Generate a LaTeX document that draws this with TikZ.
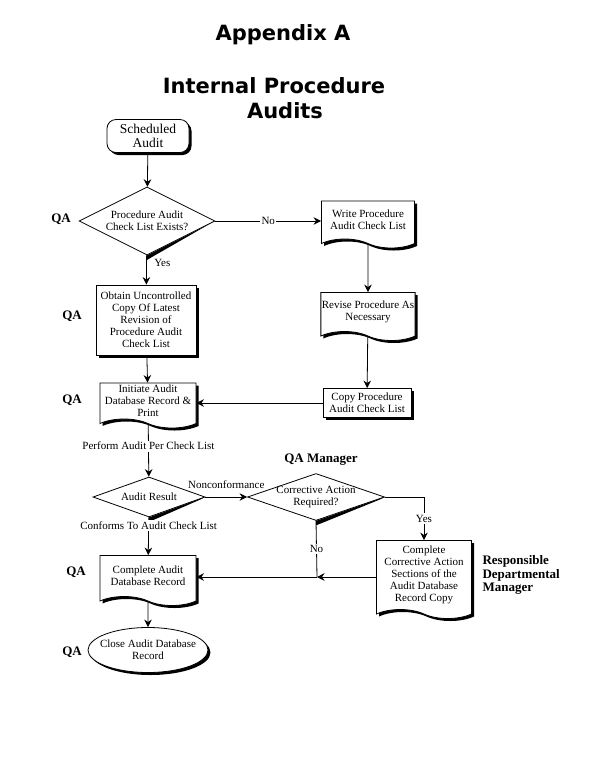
\documentclass[tikz,border=0pt]{standalone}
\usepackage{fontspec}
\usepackage{tikz}
\setmainfont{Liberation Serif}
\newfontfamily\headfont{DejaVu Sans}
\usetikzlibrary{shapes.geometric,shapes.symbols,shadows,arrows.meta}

\tikzset{
    box/.style={draw, fill=white, line width=0.8pt, align=center, inner xsep=1pt, inner ysep=2pt,
        drop shadow={fill=black, opacity=1, shadow xshift=2.5pt, shadow yshift=-2.5pt}},
    procbox/.style={box, rectangle},
    startbox/.style={box, rectangle, rounded corners=9pt, font=\fontsize{13.5}{14.5}\selectfont},
    docbox/.style={box, tape, tape bend top=none, tape bend bottom=out and in, tape bend height=9pt},
    endbox/.style={box, ellipse, inner sep=0pt},
    decision/.style={diamond, draw, fill=white, line width=0.8pt, inner sep=0pt},
    inside/.style={label={[align=center]center:#1}},
    title/.style={font={\headfont\bfseries\fontsize{21}{25}\selectfont}},
    role/.style={font={\bfseries\fontsize{13}{13.5}\selectfont}, align=left},
    lbl/.style={fill=white, inner sep=1.5pt},
    flow/.style={->, line width=0.8pt},
}

\begin{document}
\begin{tikzpicture}[x=1pt, y=-1pt, >={Stealth[length=7.5pt,width=7.5pt]}, font=\fontsize{11}{12}\selectfont]
    \useasboundingbox (0,0) rectangle (600,780);

    % Title
    \node[title] (appx) at (283,35) {Appendix A};
    \node[title] (ttl) at (274,86) {Internal Procedure};
    \node[title] (ttlb) at (285,111) {Audits};

    % Left column
    \node[startbox, minimum width=82pt, minimum height=33pt] (sched) at (148,136) {Scheduled\\Audit};
    \node[decision, minimum width=136pt, minimum height=68pt, inside={Procedure Audit\\Check List Exists?}] (exists) at (147,221) {};
    \node[procbox, minimum width=100pt, minimum height=70pt] (obtain) at (146,320) {Obtain Uncontrolled\\Copy Of Latest\\Revision of\\Procedure Audit\\Check List};
    \node[docbox, minimum width=96pt, minimum height=45pt] (initiate) at (148,401) {Initiate Audit\\Database Record \&\\Print};
    \node[decision, minimum width=112pt, minimum height=40pt, inside={Audit Result}] (result) at (149,497) {};
    \node[docbox, minimum width=96pt, minimum height=50pt] (record) at (148,576) {Complete Audit\\Database Record};
    \node[endbox, minimum width=120pt, minimum height=45pt, inside={Close Audit Database\\Record}] (close) at (148,650) {};

    % Right column
    \node[docbox, minimum width=93pt, minimum height=47pt] (write) at (368,220) {Write Procedure\\Audit Check List};
    \node[docbox, minimum width=93pt, minimum height=48pt] (revise) at (368,312) {Revise Procedure As\\Necessary};
    \node[procbox, minimum width=88pt, minimum height=29pt] (copy) at (367,403) {Copy Procedure\\Audit Check List};
    \node[decision, minimum width=137pt, minimum height=47pt, inside={Corrective Action\\Required?}] (corr) at (316,497) {};
    \node[docbox, minimum width=95pt, minimum height=78pt] (fix) at (424,575) {Complete\\Corrective Action\\Sections of the\\Audit Database\\Record Copy};

    % Diamond shadows
    \foreach \d in {exists, result, corr} {
        \fill (\d.east) -- (\d.south) -- ([yshift=-4.5pt]\d.south) -- ([xshift=-5pt,yshift=-2.5pt]\d.east) -- cycle;
    }

    % Roles
    \foreach \x/\y [count=\i] in {61/219, 72/316, 72/400, 76/572, 72/652} {
        \node[role] (qa\i) at (\x,\y) {QA};
    }
    \node[role] (qamgr) at (321,460) {QA Manager};
    \node[role, anchor=west] (mgr) at (479,575) {Responsible\\Departmental\\Manager};

    % Connectors
    \coordinate (jn) at (317,577);
    \draw[flow] (sched) -- (exists);
    \draw[flow] (exists.east) -- node[lbl] {No} (exists.east -| write.west);
    \draw[flow] (write) -- (revise);
    \draw[flow] (revise) -- (copy);
    \draw[flow] (copy.west) -- (copy.west -| initiate.east);
    \draw[flow] (exists) -- node[pos=0.25, right=4pt] {Yes} (obtain);
    \draw[flow] (obtain) -- (initiate);
    \draw[flow] (initiate) -- node[lbl, pos=0.42] {Perform Audit Per Check List} (result);
    \draw[flow] (result) -- node[above=5pt] {Nonconformance} (corr);
    \draw[flow] (corr.east) -| node[lbl, pos=0.75] {Yes} (fix.north);
    \draw[line width=0.8pt] (corr.south) -- node[lbl] {No} (jn);
    \draw[flow] (fix.west |- jn) -- (jn);
    \draw[flow] (jn) -- (jn -| record.east);
    \draw[flow] (result) -- node[lbl, pos=0.22] {Conforms To Audit Check List} (record);
    \draw[flow] (record) -- (close);
\end{tikzpicture}
\end{document}
